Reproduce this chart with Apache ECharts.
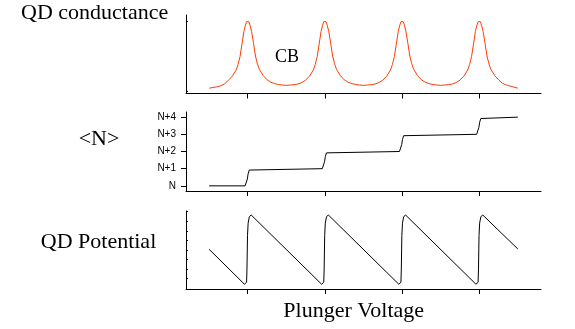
<!DOCTYPE html>
<html>
<head>
<meta charset="utf-8">
<script src="https://cdn.jsdelivr.net/npm/echarts@6/dist/echarts.min.js"></script>
<style>
html,body{margin:0;padding:0;background:#fff;}
#c{width:575px;height:329px;}
</style>
</head>
<body>
<div id="c"></div>
<script>
// ---- data ----
var xTicks = [1, 2, 3, 4];
var nLabels = ['N', 'N+1', 'N+2', 'N+3', 'N+4'];
var nTicks = [0, 1, 2, 3, 4];
var condTicks = [0, 1];
var potTicks = [0, 1, 2, 3, 4, 5, 6, 7];

var conductance = [
  [0.5,0.04],[0.55,0.05],[0.6,0.06],[0.65,0.075],[0.7,0.10],[0.75,0.155],[0.8,0.21],[0.85,0.30],[0.875,0.38],[0.9,0.49],[0.925,0.67],[0.95,0.85],[0.97,0.94],[0.985,0.99],[1.0,1.01],
  [1.015,0.99],[1.03,0.94],[1.05,0.85],[1.075,0.68],[1.1,0.50],[1.125,0.39],[1.15,0.31],[1.2,0.22],[1.25,0.16],[1.3,0.125],[1.35,0.105],[1.4,0.092],[1.45,0.085],
  [1.5,0.08],[1.55,0.085],[1.6,0.09],[1.65,0.10],[1.7,0.12],[1.75,0.155],[1.8,0.21],[1.85,0.30],[1.875,0.38],[1.9,0.49],[1.925,0.67],[1.95,0.85],[1.97,0.94],[1.985,0.99],[2.0,1.01],
  [2.015,0.99],[2.03,0.94],[2.05,0.85],[2.075,0.68],[2.1,0.50],[2.125,0.39],[2.15,0.31],[2.2,0.22],[2.25,0.16],[2.3,0.125],[2.35,0.105],[2.4,0.092],[2.45,0.085],
  [2.5,0.08],[2.55,0.085],[2.6,0.09],[2.65,0.10],[2.7,0.12],[2.75,0.155],[2.8,0.21],[2.85,0.30],[2.875,0.38],[2.9,0.49],[2.925,0.67],[2.95,0.85],[2.97,0.94],[2.985,0.99],[3.0,1.01],
  [3.015,0.99],[3.03,0.94],[3.05,0.85],[3.075,0.68],[3.1,0.50],[3.125,0.39],[3.15,0.31],[3.2,0.22],[3.25,0.16],[3.3,0.125],[3.35,0.105],[3.4,0.092],[3.45,0.085],
  [3.5,0.08],[3.55,0.085],[3.6,0.09],[3.65,0.10],[3.7,0.12],[3.75,0.155],[3.8,0.21],[3.85,0.30],[3.875,0.38],[3.9,0.49],[3.925,0.67],[3.95,0.85],[3.97,0.94],[3.985,0.99],[4.0,1.01],
  [4.015,0.99],[4.03,0.94],[4.05,0.85],[4.075,0.68],[4.1,0.50],[4.125,0.39],[4.15,0.31],[4.2,0.22],[4.25,0.16],[4.3,0.11],[4.35,0.085],[4.4,0.07],[4.45,0.055],[4.5,0.04]
];

var occupation = [
  [0.5,0],[0.966,0],[0.98,0.1],[0.995,0.4],[1.005,0.7],[1.02,0.92],[1.044,1],
  [1.966,1],[1.98,1.1],[1.995,1.4],[2.005,1.7],[2.02,1.92],[2.044,2],
  [2.966,2],[2.98,2.1],[2.995,2.4],[3.005,2.7],[3.02,2.92],[3.044,3],
  [3.966,3],[3.98,3.1],[3.995,3.4],[4.005,3.7],[4.02,3.92],[4.044,4],
  [4.5,4]
];

var potential = [
  [0.5,3.07],[0.957,-0.58],[0.985,-0.38],[0.99,1.0],[0.997,4.5],[1.005,5.8],[1.02,6.45],[1.044,6.66],
  [1.957,-0.58],[1.985,-0.38],[1.99,1.0],[1.997,4.5],[2.005,5.8],[2.02,6.45],[2.044,6.66],
  [2.957,-0.58],[2.985,-0.38],[2.99,1.0],[2.997,4.5],[3.005,5.8],[3.02,6.45],[3.044,6.66],
  [3.957,-0.58],[3.985,-0.38],[3.99,1.0],[3.997,4.5],[4.005,5.8],[4.02,6.45],[4.044,6.66],
  [4.5,3.1]
];

// ---- chart ----
var chart = echarts.init(document.getElementById('c'), null, {renderer: 'canvas'});
var black = '#000';

function xAxisDef(gi) {
  return {
    type: 'value', gridIndex: gi, min: 0.2, max: 4.8,
    axisLine: {show: true, onZero: false, lineStyle: {color: black, width: 1}},
    axisTick: {show: true, inside: false, length: 5, customValues: xTicks, lineStyle: {color: black}},
    axisLabel: {show: false},
    splitLine: {show: false}
  };
}

var serif = '"Liberation Serif", "Times New Roman", serif';

var option = {
  backgroundColor: '#fff',
  animation: false,
  grid: [
    {left: 186, width: 355, top: 15, height: 78.5},
    {left: 186, width: 355, top: 112, height: 79},
    {left: 186, width: 355, top: 211, height: 78}
  ],
  xAxis: [xAxisDef(0), xAxisDef(1), xAxisDef(2)],
  yAxis: [
    {
      type: 'value', gridIndex: 0, min: -0.036, max: 1.086,
      axisLine: {show: true, onZero: false, lineStyle: {color: black}},
      axisTick: {show: true, inside: true, length: 2, customValues: condTicks, lineStyle: {color: black}},
      axisLabel: {show: false}, splitLine: {show: false}
    },
    {
      type: 'value', gridIndex: 1, min: -0.3, max: 4.3,
      axisLine: {show: true, onZero: false, lineStyle: {color: black}},
      axisTick: {show: true, inside: false, length: 5, customValues: nTicks, lineStyle: {color: black}},
      axisLabel: {
        show: true, customValues: nTicks, margin: 10,
        fontFamily: '"Liberation Sans", Arial, sans-serif', fontSize: 10, color: black,
        formatter: function (v) { return nLabels[Math.round(v)]; }
      },
      splitLine: {show: false}
    },
    {
      type: 'value', gridIndex: 2, min: -1.08, max: 7.07,
      axisLine: {show: true, onZero: false, lineStyle: {color: black}},
      axisTick: {show: true, inside: true, length: 2, customValues: potTicks, lineStyle: {color: black}},
      axisLabel: {show: false}, splitLine: {show: false}
    }
  ],
  series: [
    {type: 'line', xAxisIndex: 0, yAxisIndex: 0, data: conductance, showSymbol: false,
     lineStyle: {color: '#ff3c00', width: 1}},
    {type: 'line', xAxisIndex: 1, yAxisIndex: 1, data: occupation, showSymbol: false,
     lineStyle: {color: black, width: 1}},
    {type: 'line', xAxisIndex: 2, yAxisIndex: 2, data: potential, showSymbol: false,
     lineStyle: {color: black, width: 1}}
  ],
  graphic: [
    {type: 'text', style: {text: 'QD conductance', x: 21, y: 13.3, font: '22px ' + serif, fill: black, textAlign: 'left', textVerticalAlign: 'middle'}},
    {type: 'text', style: {text: '<N>', x: 99, y: 139.3, font: '22px ' + serif, fill: black, textAlign: 'center', textVerticalAlign: 'middle'}},
    {type: 'text', style: {text: 'QD Potential', x: 98.5, y: 242, font: '22px ' + serif, fill: black, textAlign: 'center', textVerticalAlign: 'middle'}},
    {type: 'text', style: {text: 'Plunger Voltage', x: 353.7, y: 311, font: '22px ' + serif, fill: black, textAlign: 'center', textVerticalAlign: 'middle'}},
    {type: 'text', style: {text: 'CB', x: 287, y: 57.2, font: '18px ' + serif, fill: black, textAlign: 'center', textVerticalAlign: 'middle'}}
  ]
};
chart.setOption(option);
</script>
</body>
</html>
